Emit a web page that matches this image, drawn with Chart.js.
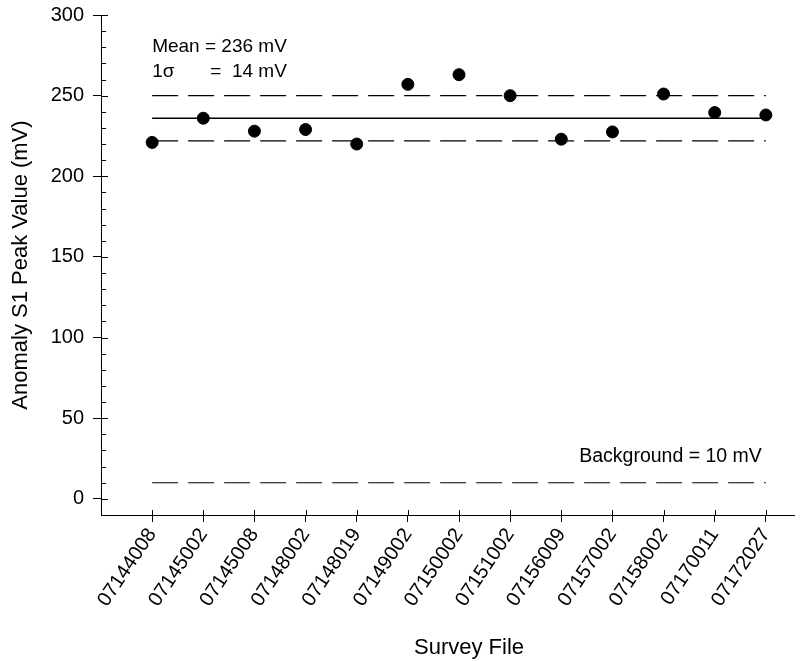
<!DOCTYPE html>
<html lang="en">
<head>
<meta charset="UTF-8">
<title>Anomaly S1 Peak Value</title>
<script src="https://cdn.jsdelivr.net/npm/chart.js"></script>
<style>
  html, body { margin: 0; padding: 0; background: #fff; }
  #wrap { width: 809px; height: 661px; }
</style>
</head>
<body>
<div id="wrap"><canvas id="peakChart"></canvas></div>
<script>
// survey files (x categories)
const surveyFiles = ['07144008', '07145002', '07145008', '07148002', '07148019', '07149002',
  '07150002', '07151002', '07156009', '07157002', '07158002', '07170011', '07172027'];
// S1 peak values, mV
const peakValues = [221, 236, 228, 229, 220, 257, 263, 250, 223, 227.5, 251, 239.5, 238];
const meanValue = 236;
const sigmaValue = 14;
const backgroundValue = 10;
const yMajorTicks = [0, 50, 100, 150, 200, 250, 300];

const FONT = '"Liberation Sans", Arial, Helvetica, sans-serif';
const last = surveyFiles.length - 1;

function hLine(v) {
  return [{ x: 0, y: v }, { x: last, y: v }];
}

// extra tick marks inside the axes + the text notes
const overlay = {
  id: 'overlay',
  afterDraw(chart) {
    const { ctx, chartArea, scales: { x, y } } = chart;
    ctx.save();
    ctx.strokeStyle = '#000';
    ctx.lineWidth = 1;
    y.ticks.forEach(t => {
      if (t.value < 0) return;
      const py = Math.round(y.getPixelForValue(t.value)) + 0.5;
      const len = yMajorTicks.includes(t.value) ? 7 : 5;
      ctx.beginPath();
      ctx.moveTo(chartArea.left, py);
      ctx.lineTo(chartArea.left + len, py);
      ctx.stroke();
    });
    x.ticks.forEach(t => {
      const px = Math.round(x.getPixelForValue(t.value)) + 0.5;
      ctx.beginPath();
      ctx.moveTo(px, chartArea.bottom);
      ctx.lineTo(px, chartArea.bottom - 5);
      ctx.stroke();
    });

    ctx.fillStyle = '#000';
    ctx.font = '19px ' + FONT;
    ctx.textBaseline = 'alphabetic';
    const x0 = x.getPixelForValue(0);
    const meanText = 'Mean = ' + meanValue + ' mV';
    ctx.textAlign = 'left';
    ctx.fillText(meanText, x0, chartArea.top + 37);
    ctx.fillText('1\u03C3', x0, chartArea.top + 62);
    ctx.textAlign = 'right';
    const rightEdge = x0 + ctx.measureText(meanText).width;
    ctx.fillText('=  ' + sigmaValue + ' mV', rightEdge, chartArea.top + 62);
    ctx.font = '19.5px ' + FONT;
    ctx.fillText('Background = ' + backgroundValue + ' mV',
      x.getPixelForValue(last) - 4, y.getPixelForValue(backgroundValue) - 21);

    // x axis title
    ctx.font = '22px ' + FONT;
    ctx.textAlign = 'center';
    ctx.fillText('Survey File', 469, 654);
    ctx.restore();
  }
};

const dashed = [26, 10];
const lineDefaults = { showLine: true, pointRadius: 0, borderColor: '#000', fill: false };

new Chart(document.getElementById('peakChart'), {
  type: 'scatter',
  data: {
    datasets: [
      Object.assign({ label: 'Mean', data: hLine(meanValue), borderWidth: 1.3 }, lineDefaults),
      Object.assign({ label: '+1 sigma', data: hLine(meanValue + sigmaValue), borderWidth: 1.2, borderDash: dashed }, lineDefaults),
      Object.assign({ label: '-1 sigma', data: hLine(meanValue - sigmaValue), borderWidth: 1.2, borderDash: dashed }, lineDefaults),
      Object.assign({ label: 'Background', data: hLine(backgroundValue), borderWidth: 1.2, borderDash: dashed }, lineDefaults),
      {
        label: 'Peak',
        data: surveyFiles.map((f, i) => ({ x: i, y: peakValues[i] })),
        pointRadius: 6,
        pointBackgroundColor: '#000',
        pointBorderColor: '#000',
        showLine: false
      }
    ]
  },
  options: {
    responsive: true,
    maintainAspectRatio: false,
    animation: false,
    layout: { padding: { top: 15, right: 15, left: 0, bottom: 0 } },
    plugins: { legend: { display: false }, tooltip: { enabled: false } },
    scales: {
      x: {
        type: 'linear',
        min: -1,
        max: 12.55,
        afterBuildTicks: scale => { scale.ticks = surveyFiles.map((f, i) => ({ value: i })); },
        afterFit: scale => { scale.height = 146; scale.paddingLeft = 0; scale.paddingRight = 0; },
        border: { display: true, color: '#000', width: 1 },
        grid: { drawOnChartArea: false, drawTicks: true, tickLength: 7, color: '#000' },
        ticks: {
          autoSkip: false,
          minRotation: 56,
          maxRotation: 56,
          padding: 2,
          color: '#000',
          font: { family: FONT, size: 20 },
          callback: v => surveyFiles[v] || ''
        },
        title: { display: false }
      },
      y: {
        min: -10,
        max: 300,
        afterFit: scale => { scale.width = 101; scale.paddingTop = 0; scale.paddingBottom = 0; },
        border: { display: true, color: '#000', width: 1 },
        grid: {
          drawOnChartArea: false,
          drawTicks: true,
          tickLength: 8,
          color: c => (c.tick && yMajorTicks.includes(c.tick.value)) ? '#000' : 'rgba(0,0,0,0)'
        },
        ticks: {
          stepSize: 10,
          autoSkip: false,
          padding: 9,
          color: '#000',
          font: { family: FONT, size: 20 },
          callback: v => yMajorTicks.includes(v) ? v : ''
        },
        title: {
          display: true,
          text: 'Anomaly S1 Peak Value (mV)',
          color: '#000',
          font: { family: FONT, size: 22 },
          padding: { top: 8, bottom: 0 }
        }
      }
    }
  },
  plugins: [overlay]
});
</script>
</body>
</html>
